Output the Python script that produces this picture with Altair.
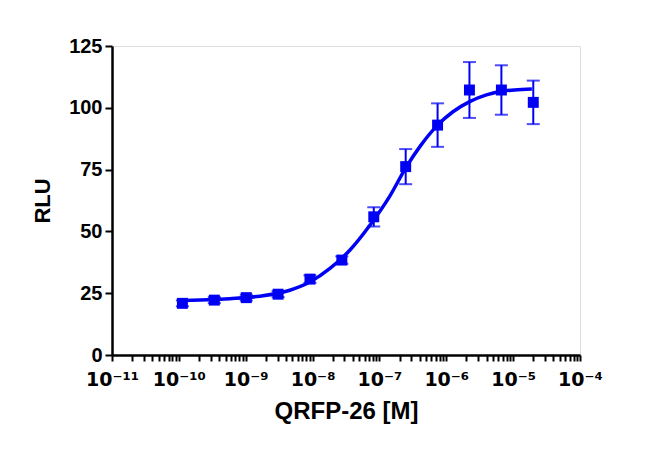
import altair as alt
import pandas as pd

# Measured points (concentration in M, RLU mean, error)
conc = [1.13e-10, 3.39e-10, 1.02e-9, 3.05e-9, 9.14e-9, 2.74e-8,
        8.23e-8, 2.47e-7, 7.41e-7, 2.22e-6, 6.67e-6, 2.0e-5]
rlu = [20.9, 22.2, 23.2, 24.6, 30.7, 38.4, 55.9, 76.2, 93.0, 107.2, 107.2, 102.2]
err = [1.2, 1.2, 1.2, 1.2, 1.5, 1.5, 3.9, 7.1, 8.8, 11.3, 10.0, 8.8]

# Fitted curve (log10 concentration, RLU)
curve_logx = [-9.94, -9.68, -9.24, -8.79, -8.34, -8.04, -7.74, -7.44, -7.14,
              -6.84, -6.60, -6.39, -6.13, -5.90, -5.65, -5.40, -5.20, -4.98, -4.72]
curve_y = [22.0, 22.2, 22.8, 23.8, 26.2, 29.5, 35.0, 42.5, 52.6,
           64.5, 76.0, 84.5, 93.0, 98.4, 102.5, 105.2, 106.6, 107.2, 107.6]

decades = [-11, -10, -9, -8, -7, -6, -5, -4]
y_ticks = [0, 25, 50, 75, 100, 125]

sup = {"-": "⁻", "0": "⁰", "1": "¹", "2": "²", "3": "³", "4": "⁴",
       "5": "⁵", "6": "⁶", "7": "⁷", "8": "⁸", "9": "⁹"}
def sup_str(n):
    return "".join(sup[c] for c in str(n))

tick_vals = []
for d in decades:
    tick_vals.append(10.0 ** d)
    if d < -4:
        for m in range(2, 10):
            tick_vals.append(m * 10.0 ** d)

expr_parts = []
for d in decades:
    expr_parts.append(f"abs(log(datum.value)/log(10) - ({d})) < 0.001 ? '10{sup_str(d)}'")
label_expr = " : ".join(expr_parts) + " : ''"

pts = pd.DataFrame({"conc": conc, "rlu": rlu, "err": err})
pts["lo"] = pts["rlu"] - pts["err"]
pts["hi"] = pts["rlu"] + pts["err"]
crv = pd.DataFrame({"conc": [10.0 ** v for v in curve_logx], "rlu": curve_y})

blue = "#0000F5"
xs = alt.Scale(type="log", domain=[1e-11, 1e-4])
ys = alt.Scale(domain=[0, 125], nice=False, zero=False)

xaxis = alt.Axis(values=tick_vals, labelExpr=label_expr, title="QRFP-26 [M]",
                 grid=False, domainColor="black", domainWidth=2.5, tickColor="black",
                 tickWidth=2, tickSize=6, labelFont="DejaVu Sans", labelFontWeight="bold",
                 labelFontSize=19, labelColor="black", labelPadding=9, labelOverlap=False,
                 titleFont="Liberation Sans", titleFontSize=24, titleFontWeight="bold",
                 titleColor="black", titlePadding=10, labelFlush=False)
yaxis = alt.Axis(values=y_ticks, title="RLU", grid=False, domainColor="black", domainWidth=2.5,
                 tickColor="black", tickWidth=2, tickSize=7, labelFont="Liberation Sans",
                 labelFontWeight="bold", labelFontSize=20, labelColor="black", labelPadding=3,
                 titleFont="Liberation Sans", titleFontSize=22, titleFontWeight="bold",
                 titleColor="black", titlePadding=14)

base_pts = alt.Chart(pts)

line = alt.Chart(crv).mark_line(color=blue, strokeWidth=3.5, interpolate="monotone").encode(
    x=alt.X("conc:Q", scale=xs, axis=xaxis),
    y=alt.Y("rlu:Q", scale=ys, axis=yaxis),
)
bars = base_pts.mark_rule(color=blue, strokeWidth=2).encode(
    x=alt.X("conc:Q", scale=xs), y=alt.Y("lo:Q", scale=ys), y2="hi:Q")
cap_lo = base_pts.mark_tick(color=blue, thickness=2, size=13, orient="horizontal").encode(
    x=alt.X("conc:Q", scale=xs), y=alt.Y("lo:Q", scale=ys))
cap_hi = base_pts.mark_tick(color=blue, thickness=2, size=13, orient="horizontal").encode(
    x=alt.X("conc:Q", scale=xs), y=alt.Y("hi:Q", scale=ys))
marks = base_pts.mark_square(color=blue, opacity=1, size=120).encode(
    x=alt.X("conc:Q", scale=xs), y=alt.Y("rlu:Q", scale=ys))

chart = alt.layer(line, bars, cap_lo, cap_hi, marks).properties(
    width=468, height=309,
    autosize=alt.AutoSizeParams(type="none"),
    padding={"left": 104, "top": 38, "right": 54, "bottom": 101},
).configure_view(stroke=None).configure(background="white")

chart.save("out.html", embed_options={"renderer": "svg", "actions": False})
